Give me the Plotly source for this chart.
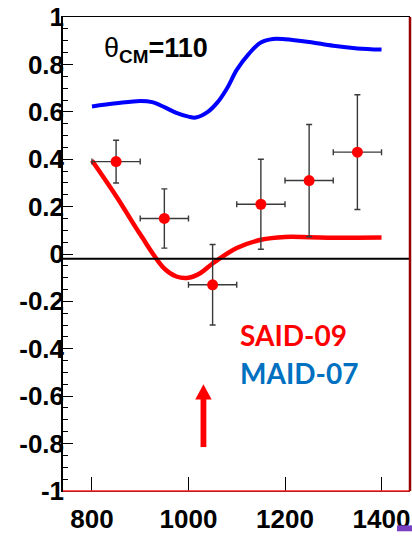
import plotly.graph_objects as go

# Measured asymmetry points with uncertainties
energy = [850, 950, 1050, 1150, 1250, 1350]
asym = [0.39, 0.15, -0.13, 0.21, 0.31, 0.43]
asym_err = [0.09, 0.125, 0.17, 0.19, 0.237, 0.242]
energy_err = [50, 50, 50, 50, 50, 50]

# SAID-09 prediction
said_x = [800, 850, 900, 950, 975, 1000, 1025, 1050, 1100, 1150, 1200, 1250, 1300, 1350, 1400]
said_y = [0.395, 0.245, 0.083, -0.062, -0.095, -0.10, -0.08, -0.04, 0.025, 0.06, 0.072, 0.071, 0.069, 0.069, 0.07]

# MAID-07 prediction
maid_x = [800, 850, 900, 925, 950, 975, 1000, 1015, 1040, 1060, 1080, 1100, 1125, 1150, 1175, 1200, 1250, 1300, 1350, 1400]
maid_y = [0.623, 0.636, 0.646, 0.641, 0.62, 0.596, 0.58, 0.576, 0.60, 0.64, 0.70, 0.777, 0.845, 0.893, 0.908, 0.907, 0.895, 0.879, 0.868, 0.863]

# Axis ticks
x_ticks = [800, 1000, 1200, 1400]
x_labels = ["800", "1000", "1200", "1400"]
y_ticks = [1, 0.8, 0.6, 0.4, 0.2, 0, -0.2, -0.4, -0.6, -0.8, -1]
y_labels = ["1", "0.8", "0.6", "0.4", "0.2", "0", "-0.2", "-0.4", "-0.6", "-0.8", "-1"]

baseline = -0.02
arrow_x = 1031
arrow_tip, arrow_tail = -0.55, -0.815

fig = go.Figure()

fig.add_trace(go.Scatter(x=maid_x, y=maid_y, mode="lines",
                         line=dict(color="#0000ff", width=4, shape="spline"),
                         hoverinfo="skip"))
fig.add_trace(go.Scatter(x=said_x, y=said_y, mode="lines",
                         line=dict(color="#ff0000", width=4.5, shape="spline"),
                         hoverinfo="skip"))
fig.add_trace(go.Scatter(
    x=energy, y=asym, mode="markers",
    marker=dict(color="#ff0000", size=11),
    error_y=dict(type="data", array=asym_err, color="#3a3a3a", thickness=1.4, width=3),
    error_x=dict(type="data", array=energy_err, color="#3a3a3a", thickness=1.4, width=3),
))

tick_font = dict(family="Liberation Sans, Arial", size=26, color="black")

fig.update_layout(
    width=412, height=536,
    margin=dict(l=63, r=2, t=13, b=40),
    paper_bgcolor="white", plot_bgcolor="white",
    showlegend=False,
    xaxis=dict(range=[740, 1459], tickvals=x_ticks,
               ticktext=[f"<b>{t}</b>" for t in x_labels],
               ticks="inside", ticklen=14, tickcolor="black", tickwidth=1,
               showline=True, linecolor="black", linewidth=1, mirror=True,
               showgrid=False, zeroline=False, tickfont=tick_font,
               ticklabelstandoff=5),
    yaxis=dict(range=[-1.0005, 1.0005], tickvals=y_ticks,
               ticktext=[f"<b>{t}</b>" for t in y_labels],
               ticks="inside", ticklen=10, tickcolor="black", tickwidth=1,
               minor=dict(dtick=0.05, tick0=0, ticks="inside", ticklen=5,
                          tickcolor="black", tickwidth=1, showgrid=False),
               showline=True, linecolor="black", linewidth=1.5,
               showgrid=False, zeroline=False, tickfont=tick_font,
               ticklabelstandoff=-8, ticklabeloverflow="allow"),
)

shapes = [
    # horizontal reference line
    dict(type="line", xref="paper", yref="y", x0=0, x1=1, y0=baseline, y1=baseline,
         line=dict(color="black", width=2)),
    # red bottom rule and dark red right border
    dict(type="line", xref="paper", yref="paper", x0=0, x1=1, y0=0, y1=0,
         ysizemode="pixel", yanchor=0, line=dict(color="#ff2020", width=1.5)),
    dict(type="line", xref="paper", yref="paper", x0=1, x1=1, y0=0, y1=1,
         line=dict(color="#990000", width=2.5)),
    # arrow shaft and head
    dict(type="rect", xref="x", yref="y", x0=arrow_x - 6, x1=arrow_x + 6,
         y0=arrow_tail, y1=arrow_tip - 0.06, fillcolor="#ff0000", line=dict(width=0)),
    dict(type="path", xref="x", yref="y",
         path=f"M {arrow_x - 17},{arrow_tip - 0.064} L {arrow_x + 17},{arrow_tip - 0.064} L {arrow_x},{arrow_tip} Z",
         fillcolor="#ff0000", line=dict(width=0)),
    # small purple mark at lower right
    dict(type="rect", xref="paper", yref="paper", x0=0.9625, x1=1.006, y0=-0.0725, y1=-0.085,
         fillcolor="#7b3fc4", line=dict(width=0)),
]
fig.update_layout(shapes=shapes)

fig.add_annotation(xref="paper", yref="paper", x=0.113, y=0.93, xanchor="left", yanchor="middle",
                   text="θ<sub><b>CM</b></sub><b>=110</b>", showarrow=False,
                   font=dict(family="Liberation Sans, Arial", size=27, color="black"))
fig.add_annotation(xref="paper", yref="paper", x=0.505, y=0.33, xanchor="left", yanchor="middle",
                   text="<b>SAID-09</b>", showarrow=False,
                   font=dict(family="Lato", size=28, color="#ff0000"))
fig.add_annotation(xref="paper", yref="paper", x=0.505, y=0.25, xanchor="left", yanchor="middle",
                   text="<b>MAID-07</b>", showarrow=False,
                   font=dict(family="Lato", size=28, color="#0070c0"))

fig.write_html("out.html")
